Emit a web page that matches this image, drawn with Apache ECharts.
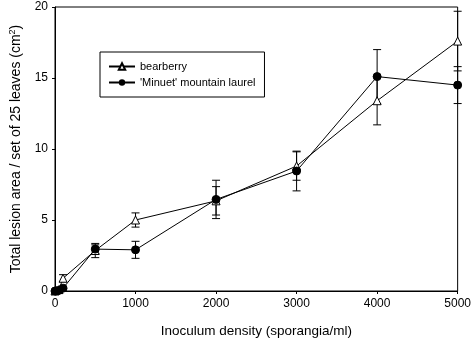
<!DOCTYPE html>
<html>
<head>
<meta charset="utf-8">
<script src="https://cdn.jsdelivr.net/npm/echarts@6/dist/echarts.min.js"></script>
<style>
html, body { margin: 0; padding: 0; background: #fff; }
#chart { width: 474px; height: 354px; }
</style>
</head>
<body>
<div id="chart"></div>
<script>
var density = [0, 10, 50, 100, 500, 1000, 2000, 3000, 4000, 5000];
var bearberry = [0, 0.05, 0.1, 0.9, 2.85, 5.0, 6.35, 8.8, 13.4, 17.6];
var bearberryErr = [0, 0, 0, 0.25, 0.5, 0.5, 1.0, 1.0, 1.7, 2.1];
var laurel = [0, 0, 0.05, 0.2, 2.95, 2.9, 6.45, 8.45, 15.1, 14.5];
var laurelErr = [0, 0, 0, 0.1, 0.3, 0.6, 1.35, 1.4, 1.9, 1.3];

var font = 'Liberation Sans, Arial, sans-serif';

function pairs(ys) {
    return density.map(function (x, i) { return [x, ys[i]]; });
}
function errData(ys, es) {
    var res = [];
    for (var i = 0; i < density.length; i++) {
        if (es[i] > 0) res.push([density[i], ys[i] - es[i], ys[i] + es[i]]);
    }
    return res;
}
function renderErr(params, api) {
    var lo = api.coord([api.value(0), api.value(1)]);
    var hi = api.coord([api.value(0), api.value(2)]);
    var w = 4;
    var st = { stroke: '#000', lineWidth: 1 };
    return {
        type: 'group',
        children: [
            { type: 'line', shape: { x1: lo[0], y1: lo[1], x2: hi[0], y2: hi[1] }, style: st },
            { type: 'line', shape: { x1: lo[0] - w, y1: lo[1], x2: lo[0] + w, y2: lo[1] }, style: st },
            { type: 'line', shape: { x1: hi[0] - w, y1: hi[1], x2: hi[0] + w, y2: hi[1] }, style: st }
        ]
    };
}

var chart = echarts.init(document.getElementById('chart'));
chart.setOption({
    animation: false,
    grid: { left: 52, right: 14, top: 7, bottom: 63, show: true, borderColor: '#000', borderWidth: 1 },
    legend: {
        left: 100, top: 52,
        orient: 'vertical',
        itemGap: 5,
        padding: [9, 9, 9, 8],
        borderColor: '#000', borderWidth: 1,
        itemWidth: 26, itemHeight: 8,
        textStyle: { fontFamily: font, fontSize: 11, color: '#000' },
        data: ['bearberry', "'Minuet' mountain laurel"]
    },
    xAxis: {
        type: 'value', min: 0, max: 5000, interval: 1000,
        name: 'Inoculum density (sporangia/ml)',
        nameLocation: 'middle', nameGap: 33,
        nameTextStyle: { fontFamily: font, fontSize: 13.5, color: '#000' },
        axisLine: { lineStyle: { color: '#000' } },
        axisTick: { length: 3, lineStyle: { color: '#000' } },
        axisLabel: { fontFamily: font, fontSize: 12, color: '#000', margin: 7, formatter: function (v) { return String(v); } },
        splitLine: { show: false }
    },
    yAxis: {
        type: 'value', min: 0, max: 20, interval: 5,
        name: 'Total lesion area / set of 25 leaves (cm{s|2})',
        nameLocation: 'middle', nameGap: 30,
        nameTextStyle: {
            fontFamily: font, fontSize: 14, color: '#000',
            rich: { s: { fontFamily: font, fontSize: 9, color: '#000', verticalAlign: 'top', padding: [0, 0, 8, 0] } }
        },
        axisLine: { lineStyle: { color: '#000' } },
        axisTick: { length: 3, lineStyle: { color: '#000' } },
        axisLabel: { fontFamily: font, fontSize: 12, color: '#000', margin: 7 },
        splitLine: { show: false }
    },
    series: [
        {
            name: 'bearberry', type: 'line', data: pairs(bearberry),
            symbol: 'triangle', symbolSize: 8,
            itemStyle: { color: '#fff', borderColor: '#000', borderWidth: 1 },
            lineStyle: { color: '#000', width: 1 },
            z: 3
        },
        {
            name: "'Minuet' mountain laurel", type: 'line', data: pairs(laurel),
            symbol: 'circle', symbolSize: 8,
            itemStyle: { color: '#000', borderColor: '#000' },
            lineStyle: { color: '#000', width: 1 },
            z: 4
        },
        { type: 'custom', data: errData(bearberry, bearberryErr), renderItem: renderErr, encode: { x: 0, y: [1, 2] }, z: 2 },
        { type: 'custom', data: errData(laurel, laurelErr), renderItem: renderErr, encode: { x: 0, y: [1, 2] }, z: 2 }
    ]
});
</script>
</body>
</html>
